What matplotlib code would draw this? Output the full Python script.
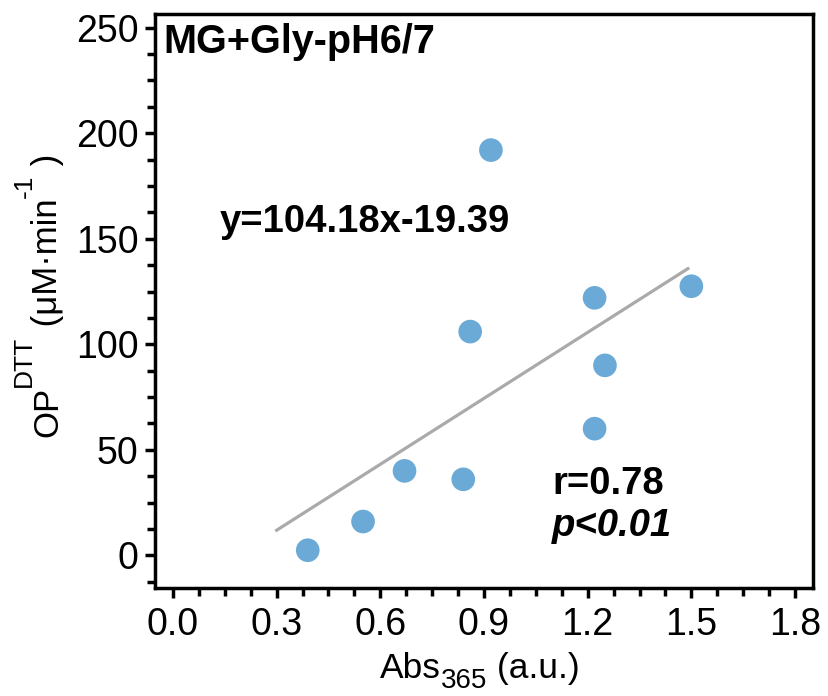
import matplotlib
matplotlib.use("Agg")
import matplotlib.pyplot as plt
import numpy as np
from matplotlib.ticker import MultipleLocator, FormatStrFormatter
from matplotlib.transforms import IdentityTransform

plt.rcParams['font.family'] = ['Liberation Sans', 'DejaVu Sans']

abs365 = [0.39, 0.55, 0.67, 0.84, 0.86, 0.92, 1.22, 1.22, 1.25, 1.50]
op_dtt = [2.4, 16, 40, 36, 106, 192, 122, 60, 90, 127.5]
slope, intercept = 104.18, -19.39
fit_x = [0.30, 1.49]
title = "MG+Gly-pH6/7"
eq_text = "y=104.18x-19.39"
r_text = "r=0.78"
p_text = "p<0.01"

W, H = 829, 696
fig = plt.figure(figsize=(W / 100, H / 100), dpi=100)
ax = fig.add_axes([155 / W, 1 - 588 / H, (813 - 155) / W, (588 - 14) / H])

fx = np.array(fit_x)
ax.plot(fx, slope * fx + intercept, color='#aaaaaa', lw=2.3, zorder=1)
ax.scatter(abs365, op_dtt, s=290, color='#6baad6', edgecolors='none', zorder=2)

ax.set_xlim(-0.052, 1.852)
ax.set_ylim(-15.5, 256.5)
ax.xaxis.set_major_locator(MultipleLocator(0.3))
ax.xaxis.set_minor_locator(MultipleLocator(0.075))
ax.yaxis.set_major_locator(MultipleLocator(50))
ax.yaxis.set_minor_locator(MultipleLocator(12.5))
ax.xaxis.set_major_formatter(FormatStrFormatter('%.1f'))

for s in ax.spines.values():
    s.set_linewidth(2.5)
ax.tick_params(which='both', direction='out', width=2.5, length=7, labelsize=27)
ax.tick_params(axis='x', pad=7)
ax.tick_params(axis='y', pad=5)
ax.tick_params(which='minor', length=6)


def to_ax(px, py):
    # image pixel (from top-left) -> axes fraction
    return (px - 155) / (813 - 155), (588 - py) / (588 - 14)


tx, ty = to_ax(163, 53)
ax.text(tx, ty, title, transform=ax.transAxes, fontsize=28.5, fontweight='bold',
        va='baseline', ha='left')
tx, ty = to_ax(220, 232)
ax.text(tx, ty, eq_text, transform=ax.transAxes, fontsize=27.5,
        fontweight='bold', va='baseline', ha='left')
tx, ty = to_ax(552, 494)
ax.text(tx, ty, r_text, transform=ax.transAxes, fontsize=27.5,
        fontweight='bold', va='baseline', ha='left')
tx, ty = to_ax(552, 536)
ax.text(tx, ty, p_text, transform=ax.transAxes, fontsize=27.5,
        fontweight='bold', style='italic', va='baseline', ha='left')

renderer = fig.canvas.get_renderer()
pt = 100 / 72.0


def chain_h(x0, base_y, parts):
    x = x0
    for txt, size, shift in parts:
        t = fig.text(x, H - base_y + shift * pt, txt, fontsize=size, ha='left',
                     va='baseline', transform=IdentityTransform())
        x = t.get_window_extent(renderer).x1


def chain_v(base_x, y0, parts):
    y = H - y0
    for txt, size, shift in parts:
        t = fig.text(base_x - shift * pt, y, txt, fontsize=size, ha='left',
                     va='baseline', rotation=90, rotation_mode='anchor',
                     transform=IdentityTransform())
        y = t.get_window_extent(renderer).y1


xlabel_parts = [("Abs", 25.5, 0), ("365", 20, -7.5), (" (a.u.)", 25.5, 0)]
ylabel_parts = [("OP", 25, 0), ("DTT", 19, 19), (" (\u03bcM\u00b7min", 25, 0),
                ("-1", 19, 18), (" )", 25, 0)]

chain_h(380, 678, xlabel_parts)
chain_v(57, 437, ylabel_parts)

fig.savefig('out.png', dpi=100)
